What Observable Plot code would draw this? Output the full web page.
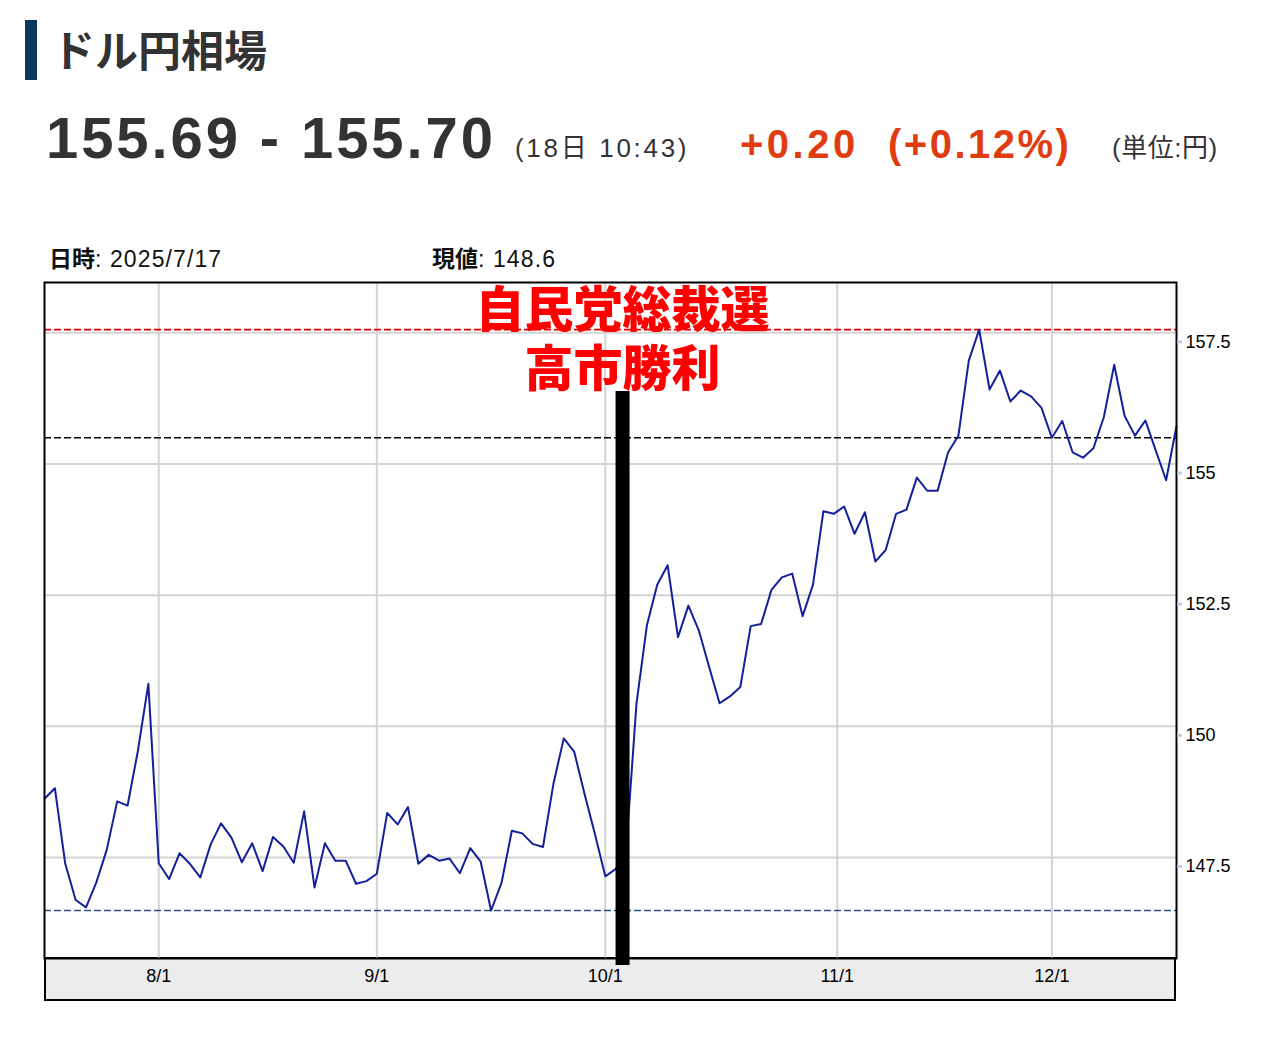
<!DOCTYPE html>
<html><head><meta charset="utf-8">
<script src="https://cdn.jsdelivr.net/npm/d3@7"></script>
<script src="https://cdn.jsdelivr.net/npm/@observablehq/plot@0.6"></script>
<style>
html,body{margin:0;padding:0;background:#fff;overflow:hidden;}
#page{position:relative;width:1266px;height:1038px;}
#header{position:absolute;left:0;top:0;}
#chart{position:absolute;left:0;top:280px;}
</style></head><body>
<div id="page"><svg id="header" width="1266" height="280"></svg><div id="chart"></div></div>
<script>
// ---- text content ----
const titleText = "ドル円相場";
const bidAsk = ["155.69", "155.70"];
const quoteTime = "(18日 10:43)";
const changeAbs = "+0.20";
const changePct = "(+0.12%)";
const unitText = "(単位:円)";
const hoverDateLabel = "日時";
const hoverDate = "2025/7/17";
const hoverValueLabel = "現値";
const hoverValue = "148.6";
const eventLines = ["自民党総裁選", "高市勝利"];

// ---- series: daily USD/JPY (trading days 2025/7/17 – 2025/12/17) ----
const values = [
  148.62, 148.82, 147.38, 146.69, 146.55, 147.03, 147.65, 148.57, 148.49, 149.54,
  150.81, 147.39, 147.09, 147.58, 147.38, 147.12, 147.75, 148.15, 147.88, 147.41,
  147.77, 147.24, 147.89, 147.71, 147.40, 148.38, 146.93, 147.77, 147.44, 147.44,
  147.00, 147.05, 147.19, 148.35, 148.13, 148.46, 147.38, 147.55, 147.44, 147.48,
  147.20, 147.68, 147.42, 146.49, 147.01, 148.01, 147.96, 147.76, 147.70, 148.90,
  149.77, 149.52, 148.71, 147.95, 147.14, 147.28, 147.63, 150.43, 151.92, 152.70,
  153.07, 151.70, 152.30, 151.83, 151.13, 150.44, 150.57, 150.75, 151.91, 151.95,
  152.60, 152.84, 152.91, 152.10, 152.70, 154.10, 154.05, 154.19, 153.67, 154.08,
  153.14, 153.36, 154.05, 154.13, 154.74, 154.49, 154.49, 155.22, 155.54, 156.97,
  157.56, 156.42, 156.78, 156.19, 156.40, 156.29, 156.07, 155.50, 155.82, 155.22,
  155.12, 155.30, 155.89, 156.89, 155.92, 155.54, 155.83, 155.26, 154.69, 155.72
];
const prevClose = 155.50;

// trading-day categories (weekdays)
const dates = d3.utcDay.range(new Date(Date.UTC(2025, 6, 17)), new Date(Date.UTC(2025, 11, 18)))
  .filter(d => d.getUTCDay() !== 0 && d.getUTCDay() !== 6)
  .slice(0, values.length);

// month tick dates and labels
const tickDates = ["2025-08-01", "2025-09-01", "2025-10-01", "2025-11-01", "2025-12-01"];
const tickLabels = ["8/1", "9/1", "10/1", "11/1", "12/1"];
const yTicks = [147.5, 150, 152.5, 155, 157.5];
const yDomain = [145.575, 158.459];

// event marker (position on the trading-day axis) and annotation level
const eventPos = 55.66;
const eventBar = [{x: eventPos, y1: 156.38, y2: 145.44}];
const eventTextY = 157.415;

// ---- derived ----
const rows = values.map((v, i) => ({i, date: dates[i], value: v}));
function datePos(t) {
  const ms = t.getTime();
  for (let i = 0; i < dates.length - 1; i++) {
    const a = dates[i].getTime(), b = dates[i + 1].getTime();
    if (ms >= a && ms < b) return i + (ms - a) / (b - a);
  }
  return dates.length - 1;
}
const xTicks = tickDates.map(s => datePos(new Date(s + "T00:00:00Z")));
const labelMap = new Map(xTicks.map((p, i) => [p, tickLabels[i]]));
const maxV = d3.max(values), minV = d3.min(values);
const annot = [{text: eventLines.join("\n"), x: eventPos, y: eventTextY}];

// ---- header ----
const LAT = "'Liberation Sans', Arial, Helvetica, 'Noto Sans CJK JP', sans-serif";
const JP = "'Noto Sans CJK JP', sans-serif";
const hdr = d3.select("#header");
hdr.append("rect").attr("x", 25).attr("y", 20).attr("width", 12).attr("height", 60).attr("fill", "#0c3a5e");
hdr.append("text").attr("x", 52).attr("y", 67).attr("font-family", JP).attr("font-weight", 700)
  .attr("font-size", 43).attr("fill", "#333").text(titleText);
hdr.append("text").attr("x", 46).attr("y", 158).attr("font-family", LAT).attr("font-weight", 700)
  .attr("font-size", 58).attr("letter-spacing", 2.9).attr("fill", "#333").text(bidAsk.join(" - "));
hdr.append("text").attr("x", 515).attr("y", 157).attr("font-family", LAT)
  .attr("font-size", 26).attr("letter-spacing", 2.7).attr("fill", "#333").text(quoteTime);
hdr.append("text").attr("x", 740).attr("y", 158).attr("font-family", LAT).attr("font-weight", 700)
  .attr("font-size", 40).attr("letter-spacing", 3.5).attr("fill", "#e03c10").text(changeAbs);
hdr.append("text").attr("x", 888).attr("y", 158).attr("font-family", LAT).attr("font-weight", 700)
  .attr("font-size", 40).attr("letter-spacing", 2.5).attr("fill", "#e03c10").text(changePct);
hdr.append("text").attr("x", 1112).attr("y", 157).attr("font-family", LAT)
  .attr("font-size", 26).attr("letter-spacing", 0.5).attr("fill", "#333").text(unitText);
function hoverText(x, label, val) {
  const t = hdr.append("text").attr("x", x).attr("y", 267).attr("font-size", 23).attr("fill", "#111");
  t.append("tspan").attr("font-family", JP).attr("font-weight", 700).text(label);
  t.append("tspan").attr("font-family", LAT).attr("letter-spacing", 1.1).text(": " + val);
}
hoverText(49, hoverDateLabel, hoverDate);
hoverText(432, hoverValueLabel, hoverValue);

// ---- chart ----
function axisBand(index, scales, vals, dim) {
  return d3.create("svg:rect")
    .attr("x", dim.marginLeft + 1)
    .attr("y", dim.height - dim.marginBottom)
    .attr("width", dim.width - dim.marginLeft - dim.marginRight - 2)
    .attr("height", 42)
    .attr("fill", "#ececec").attr("stroke", "black").attr("stroke-width", 2)
    .node();
}

const chart = Plot.plot({
  width: 1266, height: 758,
  marginTop: 2, marginBottom: 80, marginLeft: 44, marginRight: 90,
  style: {background: "transparent", fontFamily: LAT, fontSize: "18px", color: "black", overflow: "visible"},
  x: {domain: [0, dates.length - 1]},
  y: {domain: yDomain},
  marks: [
    axisBand,
    Plot.gridX({ticks: xTicks, stroke: "#d3d3d3", strokeOpacity: 1, strokeWidth: 2}),
    Plot.gridY({ticks: yTicks, stroke: "#d3d3d3", strokeOpacity: 1, strokeWidth: 2}),
    Plot.ruleY([maxV], {stroke: "#d80000", strokeWidth: 1.6, strokeDasharray: "7,3"}),
    Plot.ruleY([minV], {stroke: "#2c4f7c", strokeWidth: 1.5, strokeDasharray: "7,3"}),
    Plot.ruleY([prevClose], {stroke: "black", strokeWidth: 1.5, strokeDasharray: "7,3"}),
    Plot.line(rows, {x: "i", y: "value", stroke: "#14209a", strokeWidth: 2}),
    Plot.frame({stroke: "black", strokeWidth: 2}),
    Plot.ruleX(eventBar, {x: "x", y1: "y1", y2: "y2", stroke: "black", strokeWidth: 14}),
    Plot.text(annot, {x: "x", y: "y", text: "text", lineHeight: 1.22, fill: "#ff0000", fontSize: 49, fontWeight: 900, fontFamily: JP}),
    Plot.axisX({ticks: xTicks, tickSize: 0, tickPadding: 11, tickFormat: d => labelMap.get(d), label: null, fontSize: 18}),
    Plot.axisY({ticks: yTicks, anchor: "right", tickSize: 5, tickPadding: 4, stroke: "#b9cde5", strokeWidth: 3,
      fill: "black", dy: 9, tickFormat: d => String(d), label: null, fontSize: 18})
  ]
});
document.getElementById("chart").appendChild(chart);
</script></body></html>
